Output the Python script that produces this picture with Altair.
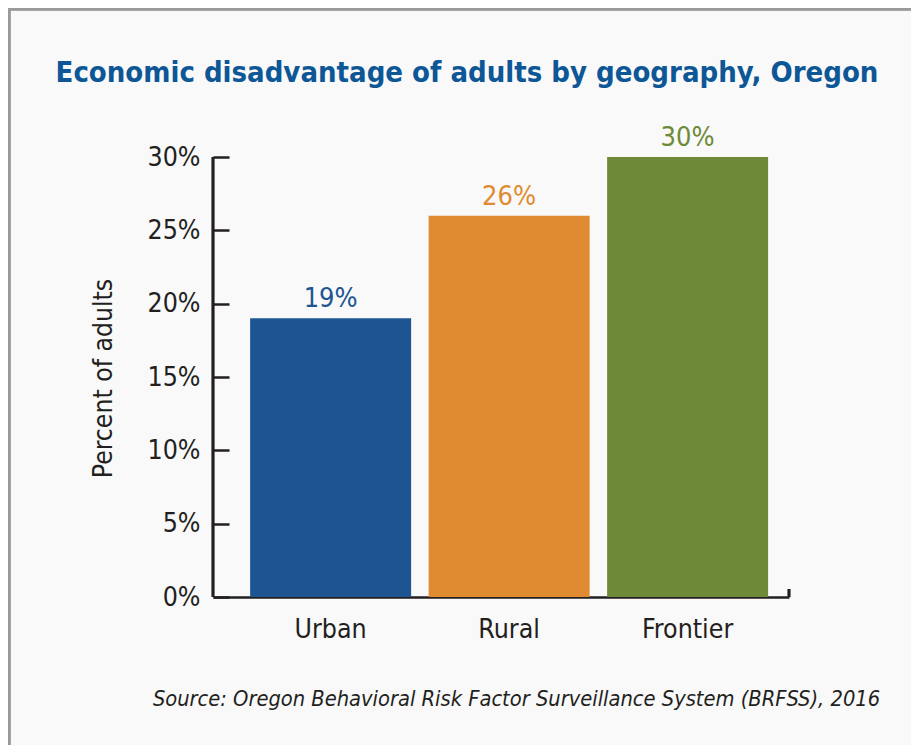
import altair as alt
import pandas as pd

categories = ["Urban", "Rural", "Frontier"]
values = [19, 26, 30]
bar_colors = ["#1c5591", "#e08b31", "#6e8a38"]
y_ticks = [0, 5, 10, 15, 20, 25, 30]
title_text = "Economic disadvantage of adults by geography, Oregon"
y_title = "Percent of adults"
source_text = "Source: Oregon Behavioral Risk Factor Surveillance System (BRFSS), 2016"

FONT = "DejaVu Sans Condensed, sans-serif"
INK = "#231f20"
W, H = 576, 440

df = pd.DataFrame({"cat": categories, "val": values,
                   "label": [f"{v}%" for v in values]})

x_enc = alt.X("cat:N", sort=categories,
              scale=alt.Scale(paddingInner=0.098, paddingOuter=0.1625, align=0.64),
              axis=alt.Axis(title=source_text, labelAngle=0, labelFont=FONT,
                            labelFontSize=26.5, labelColor=INK, labelPadding=19,
                            ticks=False, domain=True, domainColor=INK, domainWidth=2.5,
                            titleFont=FONT, titleFontSize=21.7, titleFontStyle="italic",
                            titleFontWeight="normal", titleColor=INK,
                            titleX=303, titleY=108, titleAlign="center",
                            titleBaseline="alphabetic", titleAnchor="start"))
y_enc = alt.Y("val:Q", scale=alt.Scale(domain=[0, 30], nice=False),
              axis=alt.Axis(values=y_ticks, labelExpr="datum.value + '%'",
                            offset=-16, tickSize=16, tickWidth=2.5, tickColor=INK,
                            domain=False, grid=False, labelFont=FONT, labelFontSize=26.5,
                            labelColor=INK, labelPadding=13,
                            title=y_title, titleFont=FONT, titleFontSize=26.3,
                            titleFontWeight="normal", titleColor=INK,
                            titleX=-126, titleY=221, titleAngle=-90,
                            titleAlign="center", titleBaseline="middle"))
color_enc = alt.Color("cat:N", sort=categories,
                      scale=alt.Scale(domain=categories, range=bar_colors), legend=None)

bars = alt.Chart(df).mark_bar().encode(x=x_enc, y=y_enc, color=color_enc)
labels = alt.Chart(df).mark_text(font=FONT, fontSize=27, baseline="alphabetic", dy=-11).encode(
    x=alt.X("cat:N", sort=categories), y="val:Q", text="label:N", color=color_enc)

y_line = alt.Chart(df).mark_rule(color=INK, strokeWidth=2.5).encode(
    x=alt.value(0), y=alt.value(0), y2=alt.value(H))
end_tick = alt.Chart(df).mark_rule(color=INK, strokeWidth=2.5).encode(
    x=alt.value(W), y=alt.value(H - 8), y2=alt.value(H))
border_left = alt.Chart(df).mark_rule(color="#9a9a9a", strokeWidth=3).encode(
    x=alt.value(-204), y=alt.value(-149), y2=alt.value(588))
border_top = alt.Chart(df).mark_rule(color="#9a9a9a", strokeWidth=3).encode(
    y=alt.value(-148), x=alt.value(-205), x2=alt.value(698))

chart = alt.layer(bars, labels, y_line, end_tick, border_left, border_top).properties(
    width=W, height=H,
    title=alt.TitleParams(title_text, font=FONT, fontSize=29, fontWeight="bold",
                          color="#0d5796", anchor="middle", frame="group", dx=-34,
                          baseline="alphabetic", offset=-104),
    autosize=alt.AutoSizeParams(type="none"),
    padding={"left": 205, "top": 149, "right": 122, "bottom": 148},
).configure(background="#f9f9f9").configure_view(strokeWidth=0)

chart.save("out.html", embed_options={"renderer": "svg", "actions": False})
